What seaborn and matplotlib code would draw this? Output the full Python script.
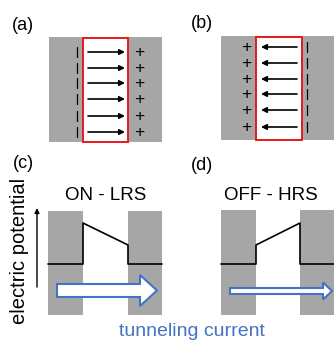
import matplotlib
matplotlib.use("Agg")
import matplotlib.pyplot as plt
from matplotlib.patches import Rectangle, FancyArrow
import seaborn as sns
import pandas as pd

sns.set_theme(style="white")
plt.rcParams['font.family'] = ['Liberation Sans', 'DejaVu Sans']

# ---- data (pixel-space schematic geometry) ----
panel_labels = ["(a)", "(b)", "(c)", "(d)"]
panel_label_x = [23, 202, 23, 202]
panel_label_y = [25, 23, 164, 165]

rows_a = [52, 68, 83, 99, 116, 132]
rows_b = [47, 63, 79, 94, 110, 127]

lrs_x = [48, 83, 83, 128, 128, 162]
lrs_y = [264, 264, 223, 245, 264, 264]
hrs_x = [221, 256, 256, 300, 300, 334]
hrs_y = [264, 264, 245, 223, 264, 264]

state_labels = ["ON - LRS", "OFF - HRS"]

GRAY = "#a6a6a6"
RED = "#e8191c"
BLUE = "#4472c4"

fig = plt.figure(figsize=(3.34, 3.45), dpi=100)
ax = fig.add_axes([0, 0, 1, 1])
ax.set_xlim(0, 334)
ax.set_ylim(345, 0)
ax.axis("off")

def rect(x0, y0, x1, y1, **kw):
    ax.add_patch(Rectangle((x0, y0), x1 - x0, y1 - y0, **kw))

# ---- panel (a) ----
rect(49, 37, 162, 142, facecolor=GRAY, edgecolor="none", zorder=1)
rect(83, 38, 128, 142, facecolor="white", edgecolor=RED, lw=1.4, zorder=2)
for y in rows_a:
    ax.annotate("", xy=(125, y), xytext=(88, y),
                arrowprops=dict(arrowstyle="-|>", color="black", lw=1.2,
                                mutation_scale=8, shrinkA=0, shrinkB=0), zorder=3)
    ax.plot([77, 77], [y - 5, y + 5], color="black", lw=0.9, zorder=3)
    ax.text(139, y + 0.5, "+", ha="center", va="center", fontsize=12.5, color="black", zorder=3)

# ---- panel (b) ----
rect(221, 36, 334, 140, facecolor=GRAY, edgecolor="none", zorder=1)
rect(256, 37, 302, 140, facecolor="white", edgecolor=RED, lw=1.4, zorder=2)
for y in rows_b:
    ax.annotate("", xy=(261, y), xytext=(297, y),
                arrowprops=dict(arrowstyle="-|>", color="black", lw=1.2,
                                mutation_scale=8, shrinkA=0, shrinkB=0), zorder=3)
    ax.plot([307, 307], [y - 5, y + 5], color="black", lw=0.9, zorder=3)
    ax.text(246, y + 0.5, "+", ha="center", va="center", fontsize=12.5, color="black", zorder=3)

# ---- panels (c),(d) electrodes ----
rect(48, 211, 83, 315, facecolor=GRAY, edgecolor="none", zorder=1)
rect(128, 211, 162, 315, facecolor=GRAY, edgecolor="none", zorder=1)
rect(221, 210, 256, 315, facecolor=GRAY, edgecolor="none", zorder=1)
rect(300, 210, 334, 315, facecolor=GRAY, edgecolor="none", zorder=1)

df = pd.DataFrame({
    "x": lrs_x + hrs_x,
    "y": lrs_y + hrs_y,
    "state": [state_labels[0]] * len(lrs_x) + [state_labels[1]] * len(hrs_x),
})
sns.lineplot(data=df, x="x", y="y", units="state", estimator=None, sort=False,
             color="black", lw=1.2, ax=ax, legend=False, zorder=3)
ax.set_xlim(0, 334)
ax.set_ylim(345, 0)
ax.axis("off")

# tunneling current arrows
ax.add_patch(FancyArrow(57, 290.5, 100, 0, width=13, head_width=31, head_length=17,
                        length_includes_head=True, facecolor="white", edgecolor=BLUE,
                        lw=1.5, zorder=4))
ax.add_patch(FancyArrow(230, 291, 102, 0, width=6, head_width=17, head_length=9,
                        length_includes_head=True, facecolor="white", edgecolor=BLUE,
                        lw=1.5, zorder=4))

# electric potential axis arrow
ax.annotate("", xy=(37, 208), xytext=(37, 287),
            arrowprops=dict(arrowstyle="-|>", color="black", lw=1.0,
                            mutation_scale=7, shrinkA=0, shrinkB=0))

# ---- texts ----
for lab, x, y in zip(panel_labels, panel_label_x, panel_label_y):
    ax.text(x, y, lab, ha="center", va="center", fontsize=13, color="black")
ax.text(106, 195, state_labels[0], ha="center", va="center", fontsize=13.5, color="black")
ax.text(271, 195, state_labels[1], ha="center", va="center", fontsize=13.5, color="black")
ax.text(20, 251, "electric potential", ha="center", va="center", rotation=90,
        fontsize=14.5, color="black")
ax.text(192, 332, "tunneling current", ha="center", va="center", fontsize=14, color=BLUE)

fig.savefig("out.png", dpi=100)
